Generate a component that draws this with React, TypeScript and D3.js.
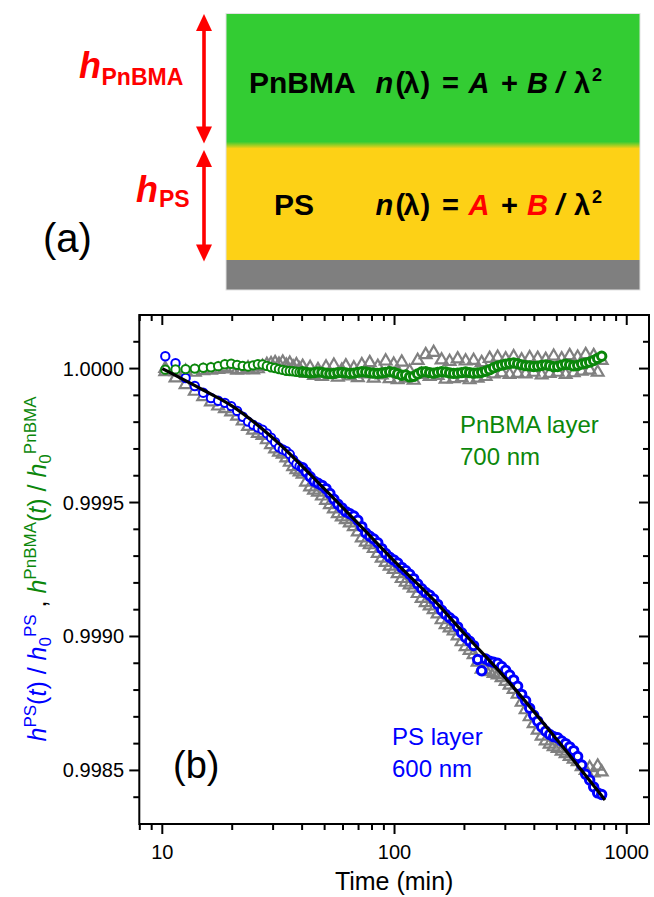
import React from "react";
import * as d3 from "d3";

// Measurement times (min)
const times = [
  10.3, 11.4, 12.6, 13.8, 15.0, 16.2, 17.4, 18.6, 19.8, 21.0, 22.2, 23.4, 24.6, 25.8, 27.0, 28.2, 29.4, 30.6, 31.8, 33.0,
  34.2, 35.4, 36.6, 37.8, 39.0, 40.2,
  41.6, 43.3, 45.0, 46.8, 48.7, 50.7, 52.7, 54.8, 57.0, 59.3, 61.7, 64.2, 66.8, 69.5, 72.3, 75.2, 78.2, 81.4, 84.7, 88.1,
  91.6, 95.3, 99.2, 103.2, 107.4, 111.7, 116.2, 120.9, 125.8, 130.9, 136.2, 141.7, 147.4, 153.3, 159.5, 166.0, 172.7,
  179.7, 187.0, 194.5, 202.4, 210.6, 219.1, 228.0, 237.2, 246.8, 256.8, 267.2, 278.0, 289.2, 300.9, 313.1, 325.8, 339.0,
  352.7, 367.0, 381.9, 397.4, 413.5, 430.2, 447.6, 465.7, 484.5, 504.1, 524.5, 545.7, 567.8, 590.8, 614.7, 639.6, 665.5,
  692.4, 720.4, 749.6, 780.0,
];

// h_PS(t)/h0_PS (blue circles)
const psRatio = [
  1.000046, 1.00002, 0.999965, 0.999935, 0.99991, 0.99989, 0.99988, 0.999872, 0.99986, 0.999842, 0.99982, 0.999802,
  0.99979, 0.99978, 0.999772, 0.999758, 0.999742, 0.999725, 0.999706, 0.999698, 0.999692, 0.99968, 0.99966, 0.999644,
  0.999636, 0.99963,
  0.999614, 0.999596, 0.99958, 0.999572, 0.999564, 0.999552, 0.999534, 0.999512, 0.999494, 0.99948, 0.999466, 0.999458,
  0.99945, 0.999434, 0.99941, 0.999386, 0.999374, 0.999364, 0.99935, 0.999328, 0.99931, 0.999296, 0.999286, 0.999274,
  0.999258, 0.999246, 0.999232, 0.999216, 0.999196, 0.999178, 0.999164, 0.999154, 0.99914, 0.99912, 0.999098, 0.999082,
  0.99907, 0.999058, 0.999036, 0.999014, 0.998996, 0.998982, 0.998966, 0.998914, 0.998872, 0.998916, 0.998908, 0.998904,
  0.9989, 0.998888, 0.998874, 0.998856, 0.998838, 0.998814, 0.998784, 0.99876, 0.998732, 0.998706, 0.998684, 0.998662,
  0.998646, 0.998634, 0.998626, 0.998622, 0.99861, 0.9986, 0.998588, 0.998574, 0.998552, 0.99852, 0.998486, 0.998464,
  0.998438, 0.998416, 0.99841,
];

// h_PnBMA(t)/h0_PnBMA (green circles)
const pnbmaRatio = [
  0.999996, 0.999997, 0.999998, 1.0, 1.000003, 1.000005, 1.000009, 1.000016, 1.000018, 1.000014, 1.00001, 1.000008,
  1.000012, 1.000016, 1.000015, 1.00001, 1.000005, 1.000002, 0.999998, 0.999995, 0.999992, 0.999991, 0.99999, 0.999988,
  0.999987, 0.999988,
  0.999986, 0.999984, 0.999985, 0.999987, 0.999986, 0.999983, 0.999981, 0.999982, 0.999985, 0.999986, 0.999984, 0.999982,
  0.999983, 0.999986, 0.999988, 0.999987, 0.999985, 0.999983, 0.999982, 0.999984, 0.999986, 0.999988, 0.999986, 0.999981,
  0.999975, 0.999976, 0.999969, 0.999971, 0.99998, 0.999987, 0.999988, 0.999985, 0.999983, 0.999986, 0.999988, 0.999987,
  0.999984, 0.999982, 0.999983, 0.999985, 0.999987, 0.999985, 0.999983, 0.999984, 0.999986, 0.99999, 0.999996, 1.000003,
  1.000009, 1.000013, 1.000016, 1.000019, 1.000021, 1.000018, 1.000014, 1.000011, 1.00001, 1.000008, 1.000009, 1.000012,
  1.000014, 1.000011, 1.000007, 1.000008, 1.000013, 1.000016, 1.000014, 1.00001, 1.000012, 1.000017, 1.00002, 1.000024,
  1.00003, 1.000038, 1.000046,
];

// Single-layer model results (grey triangles), PS side
const psModel = [
  0.999988, 0.999965, 0.99994, 0.999915, 0.999895, 0.999875, 0.99986, 0.99985, 0.999838, 0.999822, 0.999804, 0.999784,
  0.99977, 0.999758, 0.99975, 0.999734, 0.999716, 0.9997, 0.999688, 0.99968, 0.999666, 0.99965, 0.999634, 0.999622,
  0.999614, 0.999606,
  0.999576, 0.999558, 0.999546, 0.999538, 0.999524, 0.999508, 0.999492, 0.999476, 0.999458, 0.999446, 0.999436, 0.999424,
  0.99941, 0.99939, 0.999368, 0.999352, 0.999342, 0.999328, 0.99931, 0.999292, 0.999276, 0.999262, 0.99925, 0.999234,
  0.999216, 0.999202, 0.999192, 0.99918, 0.99916, 0.999142, 0.999126, 0.999114, 0.9991, 0.999084, 0.999062, 0.999044,
  0.999032, 0.99902, 0.999002, 0.99898, 0.998962, 0.998948, 0.998932, 0.998904, 0.998878, 0.998874, 0.998868, 0.998862,
  0.998856, 0.998846, 0.998832, 0.998818, 0.998802, 0.998784, 0.998754, 0.998726, 0.9987, 0.998674, 0.99865, 0.998628,
  0.99861, 0.998598, 0.998588, 0.998582, 0.998572, 0.998562, 0.998552, 0.998542, 0.998532, 0.998514, 0.9985, 0.99851,
  0.99849, 0.998516, 0.998494,
];

// Single-layer model results (grey triangles), PnBMA side
const pnbmaModel = [
  1.0, 0.999988, 0.99999, 0.999986, 0.999992, 0.999994, 0.999997, 1.000004, 0.999998, 0.999994, 0.999996, 1.000002,
  0.999995, 0.999999, 1.000008, 1.000015, 1.000018, 1.000022, 1.000016, 1.000024, 1.000012, 1.00002, 1.000006, 1.000014,
  0.999998, 1.000008,
  0.999982, 1.000004, 0.999974, 0.999996, 0.99997, 1.000006, 0.999978, 1.000012, 0.999968, 0.999994, 1.00001, 0.999972,
  1.000002, 0.999966, 1.000014, 0.99998, 1.000022, 0.999964, 1.000008, 0.999976, 1.000028, 0.999962, 1.000016, 0.999958,
  1.000024, 0.999964, 0.99999, 0.999956, 1.00003, 0.999978, 1.000052, 0.99997, 1.00006, 0.999974, 1.000032, 0.99996,
  1.000026, 0.999962, 1.000036, 0.999966, 1.000028, 0.999958, 1.00003, 0.999964, 1.000022, 0.99997, 1.000038, 0.99998,
  1.000042, 0.999984, 1.000036, 0.999978, 1.000044, 0.999982, 1.000032, 0.99998, 1.00004, 0.999986, 1.000038, 0.999976,
  1.000034, 0.999982, 1.000046, 0.999986, 1.000036, 0.999978, 1.000048, 0.999984, 1.000042, 0.99999, 1.000052, 0.999994,
  1.000048, 0.999986, 1.00003,
];

// Fitted curve for the PS layer
const fitTimes = [10, 15, 20, 30, 50, 70, 100, 150, 200, 300, 500, 806];
const fitValues = [1.0, 0.99992, 0.99986, 0.99974, 0.99955, 0.99942, 0.99928, 0.99913, 0.99901, 0.998845, 0.998615, 0.99839];

const xMajorTicks = [10, 100, 1000];
const xMinorTicks = [8, 9, 20, 30, 40, 50, 60, 70, 80, 90, 200, 300, 400, 500, 600, 700, 800, 900];
const yMajorTicks = [0.9985, 0.999, 0.9995, 1.0];
const yTickLabels = ["0.9985", "0.9990", "0.9995", "1.0000"];
const yMinorTicks = [0.9984, 0.9986, 0.9987, 0.9988, 0.9989, 0.9991, 0.9992, 0.9993, 0.9994, 0.9996, 0.9997, 0.9998, 0.9999, 1.0001];

const W = 654;
const H = 897;
const FONT = "'Liberation Sans', Arial, sans-serif";
const GREEN = "#0b870b";
const BLUE = "#0000ff";
const GREY = "#808080";
const RED = "#ff0000";

const plot = { left: 139.3, right: 649, top: 315, bottom: 824 };

function DoubleArrow({ x, y1, y2 }: { x: number; y1: number; y2: number }) {
  const hw = 8;
  const hl = 17;
  return (
    <g fill={RED} stroke="none">
      <rect x={x - 1.8} y={y1 + hl - 1} width={3.6} height={y2 - y1 - 2 * hl + 2} />
      <path d={`M${x},${y1} L${x + hw},${y1 + hl} L${x - hw},${y1 + hl} Z`} />
      <path d={`M${x},${y2} L${x + hw},${y2 - hl} L${x - hw},${y2 - hl} Z`} />
    </g>
  );
}

type Tok = { t: string; x: number; italic?: boolean; color?: string; sup?: boolean };

function Formula({ y, red }: { y: number; red?: boolean }) {
  const toks: Tok[] = [
    { t: "n", x: 375.5, italic: true },
    { t: "(", x: 395.5 },
    { t: "λ", x: 403.5 },
    { t: ")", x: 420.5 },
    { t: "=", x: 442 },
    { t: "A", x: 468.5, italic: true, color: red ? RED : undefined },
    { t: "+", x: 501 },
    { t: "B", x: 527, italic: true, color: red ? RED : undefined },
    { t: "/", x: 556, italic: true },
    { t: "λ", x: 574 },
    { t: "2", x: 592, sup: true },
  ];
  return (
    <g fontFamily={FONT} fontWeight="bold">
      {toks.map((k, i) => (
        <text
          key={i}
          x={k.x}
          y={k.sup ? y - 12 : y}
          fontSize={k.sup ? 18 : 29}
          fontStyle={k.italic ? "italic" : "normal"}
          fill={k.color ?? "#000"}
        >
          {k.t}
        </text>
      ))}
    </g>
  );
}

export default function App() {
  const x = d3.scaleLog().domain([7.96, 1247]).range([plot.left, plot.right]);
  const y = d3.scaleLinear().domain([0.9983, 1.0002]).range([plot.bottom, plot.top]);

  const tri = d3.symbol(d3.symbolTriangle, 60)() as string;
  const fitLine = d3
    .line<number>()
    .x((_, i) => x(fitTimes[i]))
    .y((v) => y(v))
    .curve(d3.curveMonotoneX)(fitValues) as string;

  const n = Math.min(times.length, psRatio.length, pnbmaRatio.length, psModel.length, pnbmaModel.length);
  const idx = d3.range(n);
  // markers crowd together on the log axis at long times, so their outlines merge into a band
  const ring = (t: number) => (t < 40 ? 2 : 3);

  return (
    <svg width={W} height={H} style={{ position: "absolute", left: 0, top: 0, background: "#fff" }}>
      <defs>
        <linearGradient id="stack" gradientUnits="userSpaceOnUse" x1="0" y1="13.5" x2="0" y2="260">
          <stop offset="0.52" stopColor="#33cc33" />
          <stop offset="0.548" stopColor="#fdd116" />
        </linearGradient>
      </defs>

      {/* (a) layer stack */}
      <rect x={226} y={13.5} width={414} height={246.5} fill="url(#stack)" />
      <rect x={226} y={260} width={414} height={30} fill="#7f7f7f" />
      <rect x={226} y={13.5} width={414} height={276.5} fill="none" stroke="#e2e2e2" strokeWidth={1} />

      <DoubleArrow x={204} y1={14} y2={143.5} />
      <DoubleArrow x={204} y1={150} y2={261.5} />

      <g fontFamily={FONT} fontWeight="bold" fill={RED}>
        <text x={79} y={78} fontSize={36} fontStyle="italic">h</text>
        <text x={101.5} y={85} fontSize={23}>PnBMA</text>
        <text x={136} y={201.5} fontSize={36} fontStyle="italic">h</text>
        <text x={159} y={207} fontSize={23}>PS</text>
      </g>
      <text x={43} y={252} fontFamily={FONT} fontSize={40}>(a)</text>

      <text x={249} y={93.3} fontFamily={FONT} fontWeight="bold" fontSize={30}>PnBMA</text>
      <Formula y={93.3} />
      <text x={274} y={215} fontFamily={FONT} fontWeight="bold" fontSize={30}>PS</text>
      <Formula y={215} red />

      {/* (b) data */}
      <g>
        {idx.map((i) => (
          <path key={"tp" + i} d={tri} transform={`translate(${x(times[i])},${y(psModel[i])})`} fill="none" stroke={GREY} strokeWidth={2.2} />
        ))}
        {idx.map((i) => (
          <path key={"tn" + i} d={tri} transform={`translate(${x(times[i])},${y(pnbmaModel[i])})`} fill="none" stroke={GREY} strokeWidth={2.2} />
        ))}
        {idx.map((i) => (
          <circle key={"cp" + i} cx={x(times[i])} cy={y(psRatio[i])} r={4.2} fill="#fff" stroke={BLUE} strokeWidth={ring(times[i])} />
        ))}
        {idx.map((i) => (
          <circle key={"cn" + i} cx={x(times[i])} cy={y(pnbmaRatio[i])} r={4.2} fill="#fff" stroke={GREEN} strokeWidth={ring(times[i])} />
        ))}
        <path d={fitLine} fill="none" stroke="#000" strokeWidth={3.2} />
      </g>

      {/* frame and ticks */}
      <g stroke="#000" strokeWidth={2} fill="none">
        <rect x={plot.left} y={plot.top} width={plot.right - plot.left} height={plot.bottom - plot.top} />
        {xMajorTicks.map((t) => (
          <g key={"xM" + t}>
            <line x1={x(t)} x2={x(t)} y1={plot.bottom} y2={plot.bottom + 10} />
            <line x1={x(t)} x2={x(t)} y1={plot.top} y2={plot.top + 10} />
          </g>
        ))}
        {xMinorTicks.map((t) => (
          <g key={"xm" + t}>
            <line x1={x(t)} x2={x(t)} y1={plot.bottom} y2={plot.bottom + 6} />
            <line x1={x(t)} x2={x(t)} y1={plot.top} y2={plot.top + 6} />
          </g>
        ))}
        {yMajorTicks.map((v) => (
          <g key={"yM" + v}>
            <line x1={plot.left - 10} x2={plot.left} y1={y(v)} y2={y(v)} />
            <line x1={plot.right - 10} x2={plot.right} y1={y(v)} y2={y(v)} />
          </g>
        ))}
        {yMinorTicks.map((v) => (
          <g key={"ym" + v}>
            <line x1={plot.left - 6} x2={plot.left} y1={y(v)} y2={y(v)} />
            <line x1={plot.right - 6} x2={plot.right} y1={y(v)} y2={y(v)} />
          </g>
        ))}
      </g>

      <g fontFamily={FONT} fontSize={20} fill="#000">
        {xMajorTicks.map((t) => (
          <text key={"xl" + t} x={x(t)} y={859} textAnchor="middle">{t}</text>
        ))}
        {yMajorTicks.map((v, i) => (
          <text key={"yl" + v} x={124} y={y(v) + 7} textAnchor="end">{yTickLabels[i]}</text>
        ))}
      </g>

      <text x={(plot.left + plot.right) / 2} y={890} textAnchor="middle" fontFamily={FONT} fontSize={25}>Time (min)</text>

      <text transform="translate(46,569) rotate(-90)" textAnchor="middle" fontFamily={FONT} fontSize={25}>
        <tspan fill={BLUE} fontStyle="italic">h</tspan>
        <tspan fill={BLUE} fontSize={17} dy={-10}>PS</tspan>
        <tspan fill={BLUE} dy={10}>(</tspan>
        <tspan fill={BLUE} fontStyle="italic">t</tspan>
        <tspan fill={BLUE}>) / </tspan>
        <tspan fill={BLUE} fontStyle="italic">h</tspan>
        <tspan fill={BLUE} fontSize={17} dy={5}>0</tspan>
        <tspan fill={BLUE} fontSize={17} dy={-15}>PS</tspan>
        <tspan fill="#000" dy={10}> , </tspan>
        <tspan fill={GREEN} fontStyle="italic">h</tspan>
        <tspan fill={GREEN} fontSize={17} dy={-10}>PnBMA</tspan>
        <tspan fill={GREEN} dy={10}>(</tspan>
        <tspan fill={GREEN} fontStyle="italic">t</tspan>
        <tspan fill={GREEN}>) / </tspan>
        <tspan fill={GREEN} fontStyle="italic">h</tspan>
        <tspan fill={GREEN} fontSize={17} dy={5}>0</tspan>
        <tspan fill={GREEN} fontSize={17} dy={-15}>PnBMA</tspan>
      </text>

      <g fontFamily={FONT} fontSize={24}>
        <text x={460} y={433} fill={GREEN}>PnBMA layer</text>
        <text x={460} y={465} fill={GREEN}>700 nm</text>
        <text x={392} y={745} fill={BLUE}>PS layer</text>
        <text x={392} y={777} fill={BLUE}>600 nm</text>
      </g>
      <text x={173} y={778} fontFamily={FONT} fontSize={38}>(b)</text>
    </svg>
  );
}
